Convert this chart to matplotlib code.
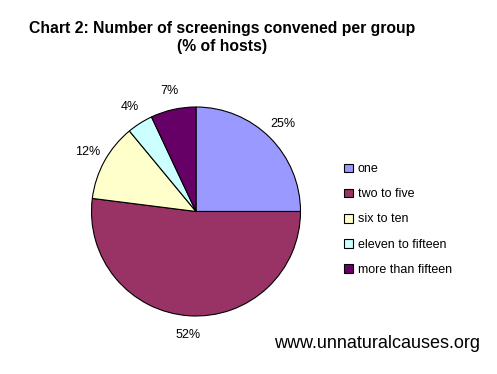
import matplotlib.pyplot as plt

# data
groups = ['one', 'two to five', 'six to ten', 'eleven to fifteen', 'more than fifteen']
pct_hosts = [25, 52, 12, 4, 7]
colours = ['#9999FF', '#993366', '#FFFFCC', '#CCFFFF', '#660066']

plt.rcParams['font.family'] = ['Liberation Sans', 'DejaVu Sans']

fig = plt.figure(figsize=(4.97, 3.74), dpi=100)
ax = fig.add_axes([91.5 / 497, 58 / 374, 209 / 497, 209 / 374])

wedges, texts, autotexts = ax.pie(
    pct_hosts, colors=colours, startangle=90, counterclock=False,
    autopct='%1.0f%%', pctdistance=1.18, radius=1,
    wedgeprops={'edgecolor': 'black', 'linewidth': 0.8},
    textprops={'fontsize': 9, 'color': 'black'})
ax.set_xlim(-1, 1)
ax.set_ylim(-1, 1)
ax.set_aspect('equal')

fig.text(222 / 497, 1 - 37 / 374,
         'Chart 2: Number of screenings convened per group\n(% of hosts)',
         ha='center', va='center', fontsize=11.3, fontweight='bold',
         linespacing=1.25)

leg = fig.legend(wedges, groups, loc='upper left',
                 bbox_to_anchor=(338 / 497, 1 - 157 / 374),
                 frameon=False, fontsize=9, handlelength=0.7,
                 handleheight=0.7, handletextpad=0.4, labelspacing=1.05,
                 borderpad=0)

fig.text(480 / 497, 1 - 343 / 374, 'www.unnaturalcauses.org',
         ha='right', va='center', fontsize=13)

fig.savefig('out.png', dpi=100)
